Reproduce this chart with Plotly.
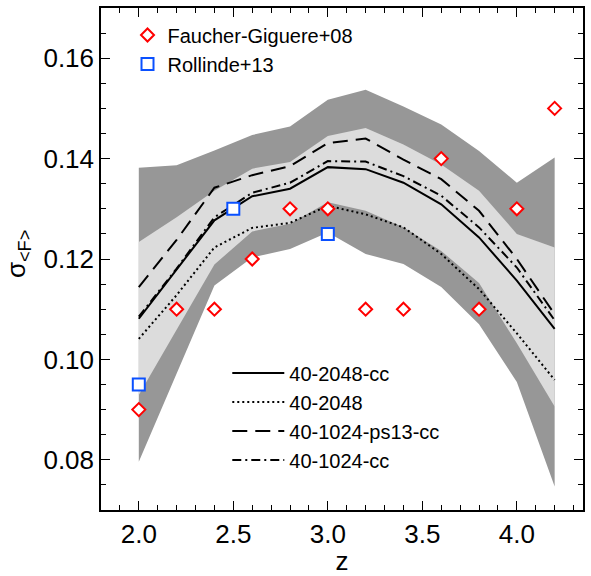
import plotly.graph_objects as go

# redshift grid of the simulation curves
z = [2.0, 2.2, 2.4, 2.6, 2.8, 3.0, 3.2, 3.4, 3.6, 3.8, 4.0, 4.2]

# shaded bands (outer = dark, inner = light)
dark_hi = [0.1382, 0.1387, 0.1416, 0.1447, 0.1464, 0.1517, 0.1537, 0.1504, 0.1468, 0.1415, 0.1352, 0.1402]
dark_lo = [0.0796, 0.0972, 0.1147, 0.1203, 0.1220, 0.1253, 0.1210, 0.1190, 0.1144, 0.1070, 0.0955, 0.0747]
light_hi = [0.1234, 0.1283, 0.1336, 0.1380, 0.1393, 0.1445, 0.1461, 0.1428, 0.1388, 0.1336, 0.1250, 0.1223]
light_lo = [0.0929, 0.1059, 0.1189, 0.1255, 0.1270, 0.1313, 0.1296, 0.1263, 0.1216, 0.1152, 0.1032, 0.0906]

# simulation curves
s_2048_cc = [0.1081, 0.1180, 0.1277, 0.1325, 0.1340, 0.1383, 0.1379, 0.1352, 0.1309, 0.1243, 0.1157, 0.1061]
s_2048 = [0.1041, 0.1128, 0.1223, 0.1262, 0.1272, 0.1306, 0.1289, 0.1263, 0.1210, 0.1140, 0.1052, 0.0959]
s_1024_ps13_cc = [0.1144, 0.1238, 0.1342, 0.1367, 0.1385, 0.1431, 0.1440, 0.1398, 0.1359, 0.1296, 0.1200, 0.1090]
s_1024_cc = [0.1085, 0.1181, 0.1283, 0.1332, 0.1352, 0.1395, 0.1394, 0.1365, 0.1326, 0.1263, 0.1183, 0.1078]

# observations
fg_z = [2.0, 2.2, 2.4, 2.6, 2.8, 3.0, 3.2, 3.4, 3.6, 3.8, 4.0, 4.2]
fg_sig = [0.09, 0.11, 0.11, 0.12, 0.13, 0.13, 0.11, 0.11, 0.14, 0.11, 0.13, 0.15]
ro_z = [2.0, 2.5, 3.0]
ro_sig = [0.095, 0.13, 0.125]

FONT = "Liberation Sans, Arial, sans-serif"
DARK = "#979797"
LIGHT = "#dcdcdc"

fig = go.Figure()

# bands
for lo, hi, col in [(dark_lo, dark_hi, DARK), (light_lo, light_hi, LIGHT)]:
    fig.add_trace(go.Scatter(x=z, y=lo, mode="lines", line=dict(width=0),
                             showlegend=False, hoverinfo="skip"))
    fig.add_trace(go.Scatter(x=z, y=hi, mode="lines", line=dict(width=0),
                             fill="tonexty", fillcolor=col,
                             showlegend=False, hoverinfo="skip"))

# simulation curves
curves = [
    ("40-2048-cc", s_2048_cc, "solid"),
    ("40-2048", s_2048, "2px,3px"),
    ("40-1024-ps13-cc", s_1024_ps13_cc, "15px,8px"),
    ("40-1024-cc", s_1024_cc, "9px,4px,2px,4px"),
]
for name, vals, dash in curves:
    fig.add_trace(go.Scatter(x=z, y=vals, mode="lines", name=name,
                             line=dict(color="black", width=2, dash=dash),
                             legend="legend2", legendgroup=name))

# observational points
fig.add_trace(go.Scatter(x=fg_z, y=fg_sig, mode="markers", name="Faucher-Giguere+08",
                         marker=dict(symbol="diamond", size=10, color="white",
                                     line=dict(color="#ff0000", width=2))))
fig.add_trace(go.Scatter(x=ro_z, y=ro_sig, mode="markers", name="Rollinde+13",
                         marker=dict(symbol="square", size=12, color="white",
                                     line=dict(color="#0a50ff", width=2))))

axis_common = dict(
    showline=True, linecolor="black", linewidth=1.5, mirror="allticks",
    ticks="inside", ticklen=9, tickwidth=1.3, tickcolor="black",
    showgrid=False, zeroline=False,
    tickfont=dict(family=FONT, size=26, color="black"),
)

fig.update_xaxes(range=[1.8, 4.35], dtick=0.5, tick0=2.0, tickformat=".1f",
                 minor=dict(dtick=0.1, ticklen=5, tickwidth=1.3, tickcolor="black", ticks="inside"),
                 title=dict(text="z", font=dict(family=FONT, size=26, color="black"), standoff=2),
                 **axis_common)
fig.update_yaxes(range=[0.07, 0.17], dtick=0.02, tick0=0.08, tickformat=".2f",
                 minor=dict(dtick=0.005, ticklen=5, tickwidth=1.3, tickcolor="black", ticks="inside"),
                 **axis_common)

# y title as an annotation so it can sit further left than the axis title allows
fig.add_annotation(text="σ<sub>&lt;F&gt;</sub>", xref="paper", yref="paper",
                   x=-0.172, y=0.51, xanchor="center", yanchor="middle",
                   textangle=-90, showarrow=False,
                   font=dict(family=FONT, size=26, color="black"))

fig.update_layout(
    width=591, height=576,
    margin=dict(l=101, r=8, t=6, b=66),
    plot_bgcolor="white", paper_bgcolor="white",
    font=dict(family=FONT, size=20, color="black"),
    legend=dict(x=0.055, y=0.985, xanchor="left", yanchor="top",
                bgcolor="rgba(0,0,0,0)", font=dict(size=20), itemwidth=30,
                traceorder="normal"),
    legend2=dict(x=0.262, y=0.312, xanchor="left", yanchor="top",
                 bgcolor="rgba(0,0,0,0)", font=dict(size=20), itemwidth=52,
                 traceorder="grouped", tracegroupgap=0),
)

# page has a default body margin, drop it so the figure sits at the corner
fig.write_html("out.html", config={"displayModeBar": False},
               post_script="document.body.style.margin='0';")
